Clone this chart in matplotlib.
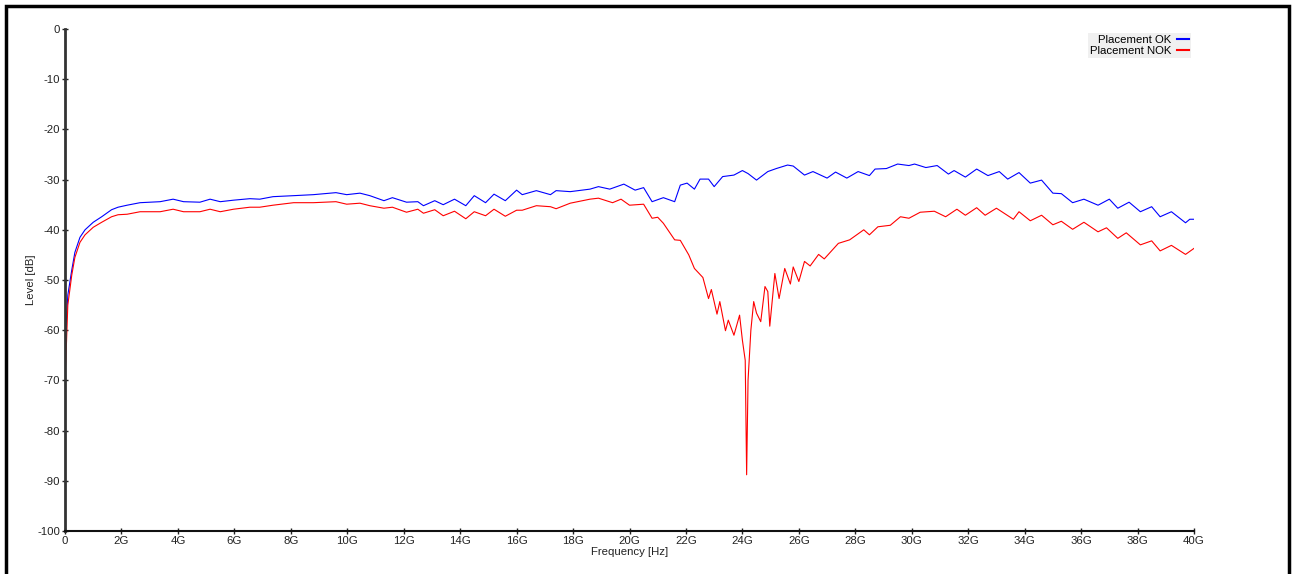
import matplotlib
matplotlib.use("Agg")
import matplotlib.pyplot as plt
from matplotlib.patches import Rectangle
from matplotlib.ticker import FuncFormatter

plt.rcParams['font.family'] = ['Liberation Sans', 'DejaVu Sans']
plt.rcParams['axes.unicode_minus'] = False

# Placement OK (blue), frequency in GHz, level in dB
freq_ok = [0.0, 0.03, 0.1, 0.24, 0.35, 0.53, 0.71, 1.0, 1.3, 1.65, 1.88, 2.2, 2.66,
           3.37, 3.83, 4.2, 4.78, 5.14, 5.5, 5.97, 6.55, 6.9, 7.37, 8.1, 8.8, 9.6,
           9.98, 10.45, 10.8, 11.3, 11.6, 12.1, 12.5, 12.7, 13.1, 13.4, 13.8, 14.2,
           14.5, 14.9, 15.2, 15.6, 16.0, 16.2, 16.7, 17.2, 17.4, 17.9, 18.6, 18.9,
           19.3, 19.8, 20.2, 20.5, 20.8, 21.2, 21.6, 21.8, 22.04, 22.3, 22.5, 22.8,
           23.0, 23.3, 23.7, 24.0, 24.2, 24.5, 24.9, 25.2, 25.6, 25.8, 26.2, 26.5,
           27.0, 27.3, 27.7, 28.1, 28.5, 28.7, 29.1, 29.5, 29.9, 30.1, 30.5, 30.9,
           31.3, 31.5, 31.9, 32.3, 32.7, 33.1, 33.4, 33.8, 34.2, 34.6, 35.0, 35.3,
           35.7, 36.1, 36.6, 37.0, 37.3, 37.7, 38.1, 38.5, 38.8, 39.2, 39.7, 39.85,
           40.0]
level_ok = [-63, -60, -53, -48, -44.5, -41.5, -40.0, -38.5, -37.4, -36.0, -35.5, -35.1,
            -34.6, -34.4, -33.9, -34.4, -34.5, -33.9, -34.4, -34.1, -33.8, -33.9, -33.4,
            -33.2, -33.0, -32.6, -33.0, -32.7, -33.2, -34.2, -33.6, -34.5, -34.4, -35.2,
            -34.2, -35.0, -33.9, -35.2, -33.2, -34.6, -32.9, -34.2, -32.1, -33.0, -32.2,
            -33.0, -32.2, -32.4, -31.9, -31.4, -31.9, -30.9, -32.1, -31.6, -34.4, -33.6,
            -34.4, -31.1, -30.7, -31.9, -29.9, -29.9, -31.4, -29.4, -29.1, -28.2, -28.8,
            -30.1, -28.4, -27.8, -27.1, -27.3, -29.1, -28.4, -29.7, -28.5, -29.7, -28.4,
            -29.2, -27.9, -27.8, -26.9, -27.2, -26.9, -27.6, -27.2, -28.9, -28.2, -29.5,
            -27.9, -29.2, -28.4, -29.9, -28.6, -30.7, -30.1, -32.7, -32.8, -34.6, -33.9,
            -35.1, -33.9, -35.7, -34.5, -36.4, -35.4, -37.4, -36.4, -38.6, -37.9, -37.9]

# Placement NOK (red)
freq_nok = [0.0, 0.03, 0.1, 0.24, 0.35, 0.53, 0.71, 1.0, 1.3, 1.65, 1.88, 2.2, 2.66,
            3.37, 3.83, 4.2, 4.78, 5.14, 5.5, 5.97, 6.55, 6.9, 7.37, 8.1, 8.8, 9.6,
            9.98, 10.45, 10.8, 11.3, 11.6, 12.1, 12.5, 12.7, 13.1, 13.4, 13.8, 14.2,
            14.5, 14.9, 15.2, 15.6, 16.0, 16.2, 16.7, 17.2, 17.4, 17.9, 18.6, 18.9,
            19.4, 19.7, 20.0, 20.5, 20.8, 21.0, 21.2, 21.6, 21.8, 22.1, 22.3, 22.6,
            22.8, 22.9, 23.1, 23.2, 23.4, 23.5, 23.7, 23.9, 24.0, 24.1, 24.15, 24.2,
            24.3, 24.4, 24.5, 24.65, 24.8, 24.9, 24.97, 25.15, 25.3, 25.5, 25.7, 25.8,
            26.0, 26.2, 26.4, 26.7, 26.9, 27.4, 27.8, 28.3, 28.5, 28.8, 29.24, 29.6,
            29.9, 30.3, 30.8, 31.2, 31.6, 31.9, 32.3, 32.6, 33.0, 33.6, 33.8, 34.2,
            34.6, 35.0, 35.3, 35.7, 36.1, 36.6, 36.9, 37.3, 37.6, 38.1, 38.5, 38.8,
            39.2, 39.7, 40.0]
level_nok = [-69, -66, -55, -49, -45.5, -42.5, -41.0, -39.5, -38.5, -37.4, -37.0, -36.9,
             -36.4, -36.4, -35.9, -36.4, -36.4, -35.9, -36.4, -35.9, -35.5, -35.5, -35.1,
             -34.6, -34.6, -34.4, -34.9, -34.7, -35.2, -35.7, -35.5, -36.5, -35.9, -36.7,
             -36.0, -37.2, -36.3, -37.8, -36.4, -37.2, -35.9, -37.3, -36.1, -36.1, -35.2,
             -35.4, -35.8, -34.7, -33.9, -33.7, -34.6, -33.9, -35.1, -34.9, -37.7, -37.5,
             -38.7, -42.0, -42.1, -45.0, -47.7, -49.5, -53.7, -51.9, -56.8, -54.3, -60.1,
             -58.0, -61.0, -57.0, -62.0, -66.0, -88.8, -70.0, -60.0, -54.3, -56.6, -58.3,
             -51.3, -52.3, -59.2, -48.7, -53.7, -47.7, -50.8, -47.4, -50.3, -46.3, -47.2,
             -44.9, -45.8, -42.7, -42.0, -40.0, -41.0, -39.4, -39.1, -37.4, -37.7, -36.5,
             -36.3, -37.4, -35.9, -37.1, -35.6, -37.1, -35.7, -37.9, -36.4, -38.2, -37.1,
             -39.0, -38.3, -39.9, -38.5, -40.4, -39.6, -41.7, -40.6, -43.0, -42.2, -44.2,
             -43.1, -44.9, -43.7]

labels = ['Placement OK', 'Placement NOK']
xticks = list(range(0, 41, 2))
yticks = list(range(-100, 1, 10))

fig = plt.figure(figsize=(12.96, 5.74), dpi=100)
ax = fig.add_axes([65/1296, 1 - 531/574, (1194 - 65)/1296, (531 - 29)/574])

ax.plot(freq_ok, level_ok, color='#0000ff', lw=0.8, label=labels[0])
ax.plot(freq_nok, level_nok, color='#ff0000', lw=0.8, label=labels[1])

ax.set_xlim(0, 40)
ax.set_ylim(-100, 0)
ax.set_xticks(xticks)
ax.set_yticks(yticks)
ax.xaxis.set_major_formatter(FuncFormatter(lambda v, p: '0' if v == 0 else '%dG' % v))
ax.tick_params(axis='both', labelsize=8.2, colors='#222222', direction='inout', length=5, width=1, pad=1)

for s in ['top', 'right']:
    ax.spines[s].set_visible(False)
ax.spines['left'].set_color('#333333')
ax.spines['left'].set_linewidth(2)
ax.spines['bottom'].set_color('#111111')
ax.spines['bottom'].set_linewidth(1.5)

ax.set_xlabel('Frequency [Hz]', fontsize=8.2, color='#222222', labelpad=1)
ax.set_ylabel('Level [dB]', fontsize=8.2, color='#222222', labelpad=1)

leg = ax.legend(loc='upper right', bbox_to_anchor=(1191/1296, 1 - 33/574),
                bbox_transform=fig.transFigure, fontsize=8.2, markerfirst=False,
                handlelength=1.0, handletextpad=0.5, labelspacing=0.05, borderpad=0.2,
                borderaxespad=0, frameon=True, fancybox=False, facecolor='#f0f0f0',
                edgecolor='none', framealpha=1)
for ln in leg.get_lines():
    ln.set_linewidth(1.5)

# outer frame around the whole picture
fig.patches.append(Rectangle((6/1296, -0.02), (1289 - 6)/1296, 1 - 6/574 + 0.02,
                             fill=False, lw=2.5, edgecolor='black', transform=fig.transFigure))

fig.savefig('out.png', dpi=100)
